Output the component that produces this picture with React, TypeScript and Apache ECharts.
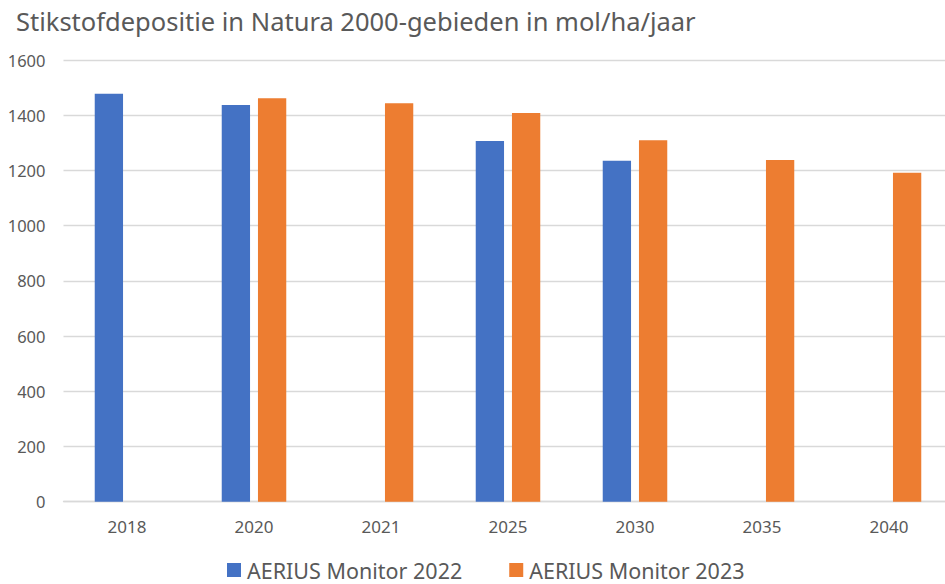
import React, { useEffect, useRef } from "react";
import * as echarts from "echarts";

const categories = ["2018", "2020", "2021", "2025", "2030", "2035", "2040"];
const monitor2022 = [1478, 1437, null, 1307, 1235, null, null];
const monitor2023 = [null, 1461, 1443, 1408, 1309, 1238, 1192];
const seriesNames = ["AERIUS Monitor 2022", "AERIUS Monitor 2023"];
const titleText = "Stikstofdepositie in Natura 2000-gebieden in mol/ha/jaar";

const FONT = "'Noto Sans', sans-serif";
const TEXT = "#595959";
const GRID = "#D9D9D9";

export default function App() {
  const ref = useRef<HTMLDivElement>(null);
  useEffect(() => {
    if (!ref.current) return;
    const chart = echarts.init(ref.current, null, { renderer: "svg" });
    chart.setOption({
      animation: false,
      textStyle: { fontFamily: FONT },
      title: {
        text: titleText,
        left: 11,
        top: 0,
        textStyle: { fontFamily: FONT, fontSize: 25.5, fontWeight: "normal", color: TEXT, lineHeight: 32 },
      },
      legend: {
        left: 227,
        top: 559,
        padding: 0,
        itemWidth: 14,
        itemHeight: 14,
        itemGap: 47,
        icon: "rect",
        textStyle: { fontFamily: FONT, fontSize: 21.5, lineHeight: 22, color: TEXT, padding: [0, 0, 0, 1] },
        data: seriesNames,
      },
      grid: { left: 63.5, top: 60, width: 889, height: 441.7, containLabel: false },
      xAxis: {
        type: "category",
        data: categories,
        axisTick: { show: false },
        axisLine: { lineStyle: { color: GRID, width: 1.3 } },
        axisLabel: { color: TEXT, fontSize: 17, fontFamily: FONT, margin: 16 },
      },
      yAxis: {
        type: "value",
        min: 0,
        max: 1600,
        interval: 200,
        axisLine: { show: false },
        axisTick: { show: false },
        splitLine: { lineStyle: { color: GRID, width: 1.3 } },
        axisLabel: {
          color: TEXT,
          fontSize: 16.5,
          fontFamily: FONT,
          margin: 18,
          formatter: (v: number) => String(v),
        },
      },
      series: [
        {
          name: seriesNames[0],
          type: "bar",
          data: monitor2022,
          barWidth: 28.3,
          barGap: "28%",
          itemStyle: { color: "#4472C4" },
        },
        {
          name: seriesNames[1],
          type: "bar",
          data: monitor2023,
          barWidth: 28.3,
          barGap: "28%",
          itemStyle: { color: "#ED7D31" },
        },
      ],
    });
    return () => chart.dispose();
  }, []);
  return (
    <div
      style={{ position: "fixed", left: 0, top: 0, width: 945, height: 584, overflow: "hidden", background: "#fff" }}
    >
      <div ref={ref} style={{ width: 953, height: 584 }} />
    </div>
  );
}
